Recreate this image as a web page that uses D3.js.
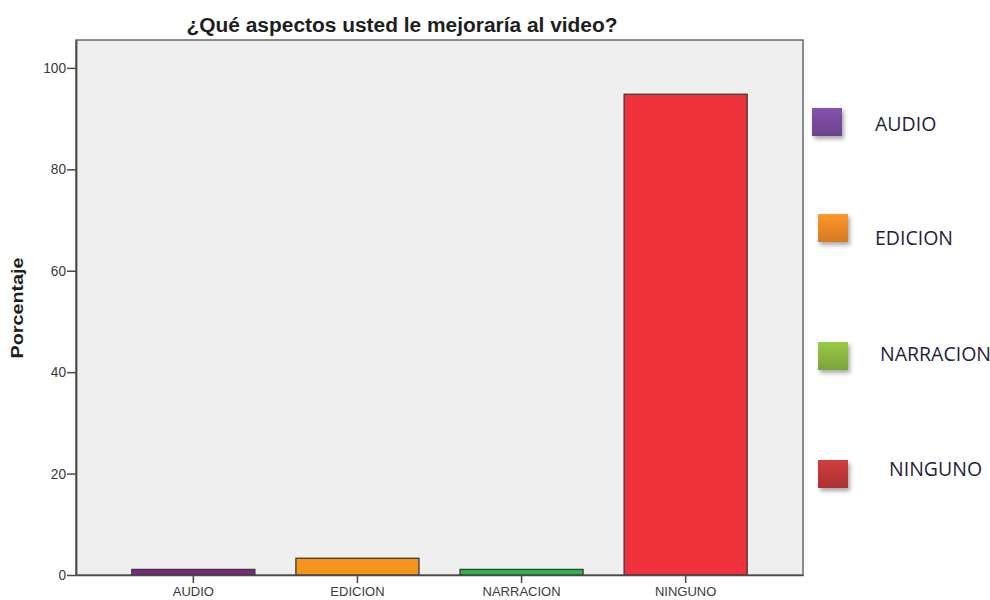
<!DOCTYPE html>
<html>
<head>
<meta charset="utf-8">
<script src="https://cdn.jsdelivr.net/npm/d3@7"></script>
<style>
  body { margin: 0; background: #fff; }
  svg { display: block; }
</style>
</head>
<body>
<div id="chart"></div>
<script>
// bar chart: ¿Qué aspectos usted le mejoraría al video?
const categories = ['AUDIO', 'EDICION', 'NARRACION', 'NINGUNO'];
const percentages = [1.1, 3.3, 1.1, 94.8];
const yTicks = [0, 20, 40, 60, 80, 100];
const barColors = ['#7d2a7e', '#f7941d', '#2fb34a', '#ef323c'];
const legendColors = ['#7a4b9e', '#f08a28', '#8bb93f', '#c0383a'];

const width = 990, height = 600;
const plot = { left: 76, right: 803, top: 40, bottom: 575 };
// legend is hand placed in the original, squares/labels not evenly spaced
const legendLayout = [
  { sx: 812, sy: 108, tx: 875, ty: 131 },
  { sx: 818, sy: 214, tx: 875, ty: 245 },
  { sx: 818, sy: 342, tx: 880, ty: 361 },
  { sx: 818, sy: 460, tx: 889, ty: 476 }
];

const svg = d3.select('#chart').append('svg')
  .attr('width', width).attr('height', height);

const defs = svg.append('defs');
const shadow = defs.append('filter').attr('id', 'shadow')
  .attr('x', '-30%').attr('y', '-30%').attr('width', '170%').attr('height', '170%');
shadow.append('feDropShadow').attr('dx', 2).attr('dy', 3).attr('stdDeviation', 2)
  .attr('flood-color', '#000').attr('flood-opacity', 0.35);
legendColors.forEach((c, i) => {
  const g = defs.append('linearGradient').attr('id', 'lg' + i)
    .attr('x1', 0).attr('y1', 0).attr('x2', 0).attr('y2', 1);
  g.append('stop').attr('offset', 0).attr('stop-color', d3.color(c).brighter(0.25));
  g.append('stop').attr('offset', 1).attr('stop-color', d3.color(c).darker(0.35));
});

const x = d3.scaleBand()
  .domain(categories)
  .range([plot.left, plot.right])
  .paddingInner(0.25)
  .paddingOuter(0.34);

const y = d3.scaleLinear()
  .domain([0, 105.5])
  .range([plot.bottom, plot.top]);

// plot background + frame
svg.append('rect')
  .attr('x', plot.left).attr('y', plot.top)
  .attr('width', plot.right - plot.left).attr('height', plot.bottom - plot.top)
  .attr('fill', '#efefef')
  .attr('stroke', '#6a6a6a').attr('stroke-width', 1.5);

// bars
svg.append('g')
  .selectAll('rect')
  .data(categories)
  .enter().append('rect')
  .attr('x', d => x(d))
  .attr('y', (d, i) => y(percentages[i]))
  .attr('width', x.bandwidth())
  .attr('height', (d, i) => y(0) - y(percentages[i]))
  .attr('fill', (d, i) => barColors[i])
  .attr('stroke', '#3a3a3a').attr('stroke-width', 1.3);

const axisFont = 'Liberation Sans, Arial, sans-serif';

// y axis
const yAxis = svg.append('g')
  .attr('transform', `translate(${plot.left},0)`)
  .call(d3.axisLeft(y).tickValues(yTicks).tickSize(9).tickSizeOuter(0).tickPadding(1));
yAxis.select('.domain').attr('stroke', '#4a4a4a').attr('stroke-width', 1.8);
yAxis.selectAll('.tick line').attr('stroke', '#4a4a4a').attr('stroke-width', 1.5);
yAxis.selectAll('.tick text')
  .attr('font-family', axisFont)
  .attr('font-size', 14).attr('fill', '#3a3a3a')
  .attr('textLength', d => String(d).length * 7.6).attr('lengthAdjust', 'spacingAndGlyphs');

// x axis
const xAxis = svg.append('g')
  .attr('transform', `translate(0,${plot.bottom})`)
  .call(d3.axisBottom(x).tickSize(8).tickSizeOuter(0).tickPadding(4));
xAxis.select('.domain').attr('stroke', '#4a4a4a').attr('stroke-width', 1.5);
xAxis.selectAll('.tick line').attr('stroke', '#4a4a4a').attr('stroke-width', 1.5);
xAxis.selectAll('.tick text')
  .attr('font-family', axisFont)
  .attr('font-size', 13).attr('fill', '#3a3a3a');

// title
svg.append('text')
  .attr('x', 402).attr('y', 32)
  .attr('text-anchor', 'middle')
  .attr('font-family', axisFont)
  .attr('font-weight', 'bold').attr('font-size', 19.5).attr('fill', '#1e1e1e')
  .attr('textLength', 431).attr('lengthAdjust', 'spacingAndGlyphs')
  .text('¿Qué aspectos usted le mejoraría al video?');

// y label
svg.append('text')
  .attr('transform', 'translate(23,308) rotate(-90)')
  .attr('text-anchor', 'middle')
  .attr('font-family', axisFont)
  .attr('font-weight', 'bold').attr('font-size', 17).attr('fill', '#1e1e1e')
  .attr('textLength', 101).attr('lengthAdjust', 'spacingAndGlyphs')
  .text('Porcentaje');

// legend
const leg = svg.append('g').selectAll('g')
  .data(categories)
  .enter().append('g');
leg.append('rect')
  .attr('x', (d, i) => legendLayout[i].sx)
  .attr('y', (d, i) => legendLayout[i].sy)
  .attr('width', 30).attr('height', 28)
  .attr('fill', (d, i) => `url(#lg${i})`)
  .attr('filter', 'url(#shadow)');
leg.append('text')
  .attr('x', (d, i) => legendLayout[i].tx)
  .attr('y', (d, i) => legendLayout[i].ty)
  .attr('font-family', 'Open Sans, sans-serif')
  .attr('font-size', 19.5).attr('fill', '#1f1f3a')
  .text(d => d);
</script>
</body>
</html>
